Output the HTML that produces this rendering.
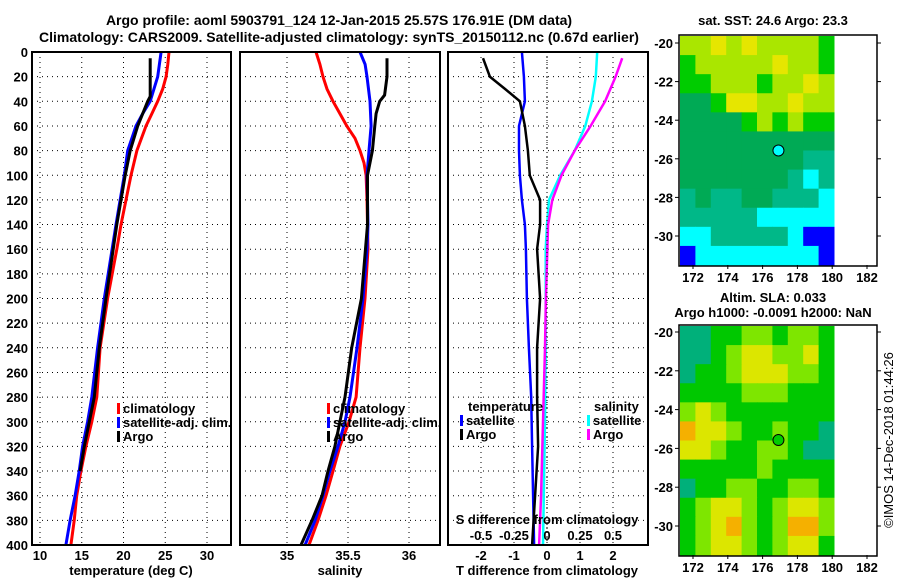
<!DOCTYPE html>
<html><head><meta charset="utf-8"><style>
html,body{margin:0;padding:0;background:#fff;}
svg{display:block;font-family:"Liberation Sans",sans-serif;font-weight:bold;}
</style></head><body>
<svg id="c" width="900" height="580" viewBox="0 0 900 580">
<text x="339" y="25" font-size="14" text-anchor="middle">Argo profile: aoml 5903791_124 12-Jan-2015 25.57S 176.91E (DM data)</text>
<text x="339" y="42" font-size="14" text-anchor="middle">Climatology: CARS2009. Satellite-adjusted climatology: synTS_20150112.nc (0.67d earlier)</text>
<text x="773" y="25" font-size="13" text-anchor="middle">sat. SST: 24.6 Argo: 23.3</text>
<text x="773" y="302" font-size="13" text-anchor="middle">Altim. SLA: 0.033</text>
<text x="773" y="317" font-size="13" text-anchor="middle">Argo h1000: -0.0091 h2000: NaN</text>
<text transform="translate(893,440) rotate(-90)" font-size="13" font-weight="normal" text-anchor="middle">©IMOS 14-Dec-2018 01:44:26</text>
</svg>
<script>
// ---- data ----
const depthTicks=[0,20,40,60,80,100,120,140,160,180,200,220,240,260,280,300,320,340,360,380,400];
const tempTicks=[10,15,20,25,30];
const salTicks=[35,35.5,36];
const salTickLabels=["35","35.5","36"];
const tdTicks=[-2,-1,0,1,2];
const sdTicks=[-0.5,-0.25,0,0.25,0.5];
const sdTickLabels=["-0.5","-0.25","0","0.25","0.5"];

const climTdepth=[0,10,20,30,40,50,60,80,100,120,140,160,200,240,280,300,320,340,360,380,400];
const climT=[25.45,25.3,25.1,24.7,24.1,23.4,22.7,21.6,20.9,20.3,19.7,19.2,18.1,17.2,16.8,16.2,15.5,14.9,14.4,14.1,13.7];
const satTdepth=[0,20,40,50,60,80,100,140,200,240,280,300,320,340,360,380,400];
const satT=[24.5,24.1,23.2,22.3,21.5,20.5,20.1,19.1,17.7,16.9,16.2,15.7,15.1,14.7,14.2,13.6,13.1];
const argoTdepth=[5,36,40,60,80,100,140,200,240,280,320,340];
const argoT=[23.2,23.2,22.9,21.7,20.8,20.2,19.2,17.9,17.1,16.5,15.3,14.8];

const climSdepth=[0,10,20,30,40,50,60,70,80,90,100,120,160,200,240,280,300,320,340,360,380,400];
const climS=[35.238,35.27,35.295,35.328,35.377,35.434,35.49,35.557,35.598,35.631,35.648,35.656,35.664,35.639,35.598,35.566,35.508,35.434,35.377,35.32,35.254,35.18];
const satSdepth=[0,10,20,40,60,80,100,140,160,200,240,280,300,320,340,360,380,400];
const satS=[35.598,35.64,35.656,35.68,35.689,35.672,35.656,35.664,35.656,35.623,35.574,35.516,35.475,35.418,35.352,35.295,35.23,35.148];
const argoSdepth=[5,20,35,40,50,60,80,100,140,200,240,280,300,320,340,360,380,400];
const argoS=[35.82,35.82,35.80,35.76,35.73,35.72,35.70,35.66,35.66,35.61,35.53,35.475,35.434,35.393,35.336,35.287,35.205,35.115];

const argoTdDepth=[5,20,30,40,60,80,100,120,140,160,200,240,280,320,360,400];
const argoTd=[-1.94,-1.73,-1.27,-0.82,-0.67,-0.58,-0.52,-0.21,-0.21,-0.3,-0.21,-0.3,-0.3,-0.27,-0.36,-0.45];
const satTdDepth=[0,20,40,60,80,100,120,140,160,200,240,280,320,360,400];
const satTd=[-0.76,-0.7,-0.67,-0.85,-0.85,-0.82,-0.76,-0.67,-0.64,-0.61,-0.55,-0.48,-0.45,-0.42,-0.39];
const satSdDepth=[0,20,40,60,80,100,120,140,160,200,240,300,400];
const satSd=[0.38,0.37,0.34,0.29,0.21,0.1,0.015,0,-0.01,-0.01,-0.01,-0.015,-0.03];
const argoSdDepth=[5,20,40,60,80,100,120,140,200,240,300,360,400];
const argoSd=[0.57,0.52,0.44,0.33,0.21,0.11,0.04,0.008,-0.008,-0.015,-0.03,-0.045,-0.06];

const lonTicks=[172,174,176,178,180,182];
const latTicks=[-20,-22,-24,-26,-28,-30];
const argoLon=176.91, argoLat=-25.57;
const sstGrid=[
"5565655554","4555556554","4455545565","3346655655","3333454544","3333333333",
"3333333322","3333333212","2322332221","2222211111","1122222100","0111111110"];
const slaGrid=[
"0011221221","0012332231","0112333221","1111222111","2321111111","4332112110",
"3321122100","1111121111","0112211221","1233212332","1234212442","1233212331"];
const sstColors=["#0000ff","#00ffff","#00b888","#00aa55","#00cc00","#aae600","#e6e600"];
const slaColors=["#00b07a","#00c800","#7ee600","#dce600","#f5b000"];

// ---- helpers ----
const svg=document.getElementById('c');
const NS="http://www.w3.org/2000/svg";
function mk(tag,attrs,parent){const e=document.createElementNS(NS,tag);for(const k in attrs)e.setAttribute(k,attrs[k]);(parent||svg).appendChild(e);return e;}
const yTop=52,yBot=545;
const yD=d=>yTop+(yBot-yTop)*d/400;

function panel(name){
  const g=mk('g',{});
  
  
  return g;
}
function grid(g,x0,x1,xs){
  depthTicks.forEach(d=>{if(d>0&&d<400){const l=mk('line',{x1:x0,x2:x1,y1:yD(d),y2:yD(d),stroke:'#000','stroke-width':1,'stroke-dasharray':'1,4'},g);}});
  xs.forEach(x=>{const l=mk('line',{x1:x,x2:x,y1:yTop,y2:yBot,stroke:'#000','stroke-width':1,'stroke-dasharray':'1,4'},g);});
}
function frame(g,x0,x1){const r=mk('rect',{x:x0,y:yTop,width:x1-x0,height:yBot-yTop,fill:'none',stroke:'#000','stroke-width':2},g);}
function line(g,vals,depths,fx,color,name,w){
  const pts=vals.map((v,i)=>fx(v).toFixed(1)+','+yD(depths[i]).toFixed(1)).join(' ');
  const p=mk('polyline',{points:pts,fill:'none',stroke:color,'stroke-width':w||3},g);
  
  
}
function txt(g,x,y,s,anchor,name,size){const t=mk('text',{x:x,y:y,'font-size':size||13,'text-anchor':anchor||'start'},g);t.textContent=s;return t;}
function legend(g,x,y,color,label){
  const m=mk('rect',{x:x,y:y-10,width:3,height:11,fill:color},g);
  
  
  txt(g,x+6,y,label,'start','legend-entry');
}

// ---- panel 1 temperature ----
const xT=t=>40+(t-10)*8.35;
const p1=panel('temperature-panel');
grid(p1,32,231,tempTicks.map(xT));
line(p1,climT,climTdepth,xT,'#ff0000','climatology-temp-line');
line(p1,satT,satTdepth,xT,'#0000ff','satellite-temp-line');
line(p1,argoT,argoTdepth,xT,'#000000','argo-temp-line');
frame(p1,32,231);
depthTicks.forEach(d=>txt(p1,28,yD(d)+5,String(d),'end','depth-tick-label'));
tempTicks.forEach(t=>txt(p1,xT(t),560,String(t),'middle','temp-tick-label'));
txt(p1,131,575,'temperature (deg C)','middle','temperature-axis-title');
legend(p1,117,413,'#ff0000','climatology');
legend(p1,117,427,'#0000ff','satellite-adj. clim.');
legend(p1,117,441,'#000000','Argo');

// ---- panel 2 salinity ----
const xS=s=>287+(s-35)*122;
const p2=panel('salinity-panel');
grid(p2,240,440,salTicks.map(xS));
line(p2,climS,climSdepth,xS,'#ff0000','climatology-sal-line');
line(p2,satS,satSdepth,xS,'#0000ff','satellite-sal-line');
line(p2,argoS,argoSdepth,xS,'#000000','argo-sal-line');
frame(p2,240,440);
salTicks.forEach((s,i)=>txt(p2,xS(s),560,salTickLabels[i],'middle','sal-tick-label'));
txt(p2,340,575,'salinity','middle','salinity-axis-title');
legend(p2,327,413,'#ff0000','climatology');
legend(p2,327,427,'#0000ff','satellite-adj. clim.');
legend(p2,327,441,'#000000','Argo');

// ---- panel 3 differences ----
const xTd=v=>547+v*33;
const xSd=v=>547+v*132;
const p3=panel('difference-panel');
grid(p3,448,648,tdTicks.map(xTd));
line(p3,satTd,satTdDepth,xTd,'#0000ff','satellite-tdiff-line',2.5);
line(p3,argoTd,argoTdDepth,xTd,'#000000','argo-tdiff-line',2.5);
line(p3,satSd,satSdDepth,xSd,'#00ffff','satellite-sdiff-line',2.5);
line(p3,argoSd,argoSdDepth,xSd,'#ff00ff','argo-sdiff-line',2.5);
const zl=mk('line',{x1:547,x2:547,y1:yTop,y2:yBot,stroke:'#000','stroke-width':1,'stroke-dasharray':'1,3'},p3);


frame(p3,448,648);
tdTicks.forEach(v=>txt(p3,xTd(v),560,String(v),'middle','tdiff-tick-label'));
txt(p3,547,575,'T difference from climatology','middle','tdiff-axis-title');
sdTicks.forEach((v,i)=>txt(p3,xSd(v),540,sdTickLabels[i],'middle','sdiff-tick-label'));
txt(p3,547,524,'S difference from climatology','middle','sdiff-axis-title');
txt(p3,468,411,'temperature','start','legend-heading-temperature');
legend(p3,460,425,'#0000ff','satellite');
legend(p3,460,439,'#000000','Argo');
txt(p3,594,411,'salinity','start','legend-heading-salinity');
legend(p3,587,425,'#00ffff','satellite');
legend(p3,587,439,'#ff00ff','Argo');

// ---- maps ----
function map(name,fy,y0,y1,gridData,colors,markerFill){
  const g=mk('g',{});
  
  
  const fx=l=>693+(l-172)*17.4;
  const x0=680,x1=834;
  const rows=gridData.length,cols=gridData[0].length;
  const cw=(x1-x0)/cols,ch=(y1-y0)/rows;
  gridData.forEach((row,r)=>{for(let c=0;c<cols;c++){
    const cell=mk('rect',{x:(x0+c*cw).toFixed(2),y:(y0+r*ch).toFixed(2),width:(cw+0.5).toFixed(2),height:(ch+0.5).toFixed(2),fill:colors[+row[c]]},g);
    
    
  }});
  const fr=mk('rect',{x:679,y:y0-1,width:198,height:y1-y0+2,fill:'none',stroke:'#000','stroke-width':1.5},g);
  
  
  lonTicks.forEach(l=>{
    const tk=mk('line',{x1:fx(l),x2:fx(l),y1:y1,y2:y1+4,stroke:'#000'},g);
    
    
    txt(g,fx(l),y1+17,String(l),'middle','lon-tick-label');
  });
  latTicks.forEach(l=>{
    const tk=mk('line',{x1:675,x2:679,y1:fy(l),y2:fy(l),stroke:'#000'},g);
    
    
    const tk2=mk('line',{x1:877,x2:881,y1:fy(l),y2:fy(l),stroke:'#000'},g);
    
    
    txt(g,673,fy(l)+5,String(l),'end','lat-tick-label');
  });
  const m=mk('circle',{cx:fx(argoLon),cy:fy(argoLat),r:5.5,fill:markerFill,stroke:'#000','stroke-width':1},g);
  
  
}
map('sst-map',l=>43+(-20-l)*19.3,36,265,sstGrid,sstColors,'#00ffff');
map('sla-map',l=>332+(-20-l)*19.4,326,555,slaGrid,slaColors,'#00cc00');
</script>
</body></html>
